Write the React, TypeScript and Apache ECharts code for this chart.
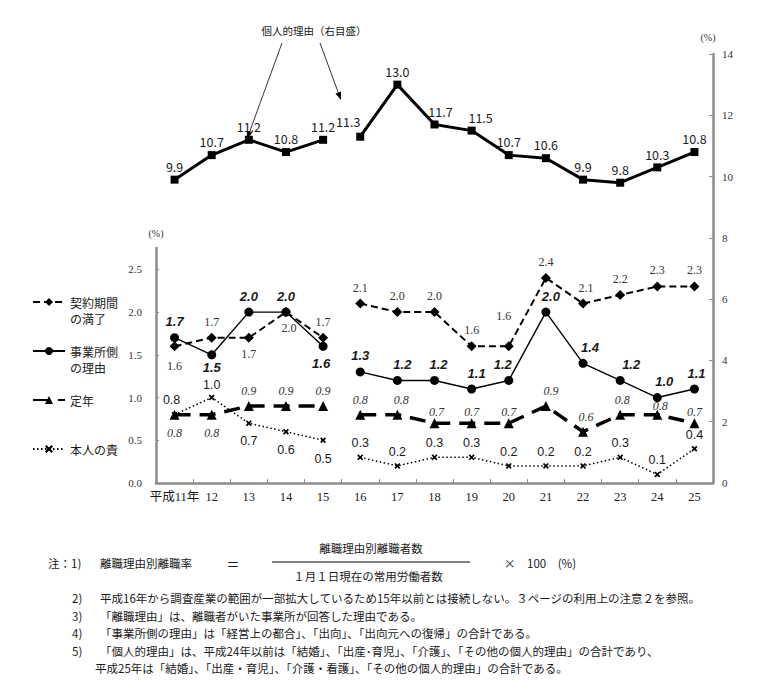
import React, { useEffect, useRef } from "react";
import * as echarts from "echarts";

// ---------- data ----------
const years = ["平成11年", "12", "13", "14", "15", "16", "17", "18", "19", "20", "21", "22", "23", "24", "25"];
const keiyaku = [1.6, 1.7, 1.7, 2.0, 1.7, 2.1, 2.0, 2.0, 1.6, 1.6, 2.4, 2.1, 2.2, 2.3, 2.3];
const jigyosho = [1.7, 1.5, 2.0, 2.0, 1.6, 1.3, 1.2, 1.2, 1.1, 1.2, 2.0, 1.4, 1.2, 1.0, 1.1];
const teinen = [0.8, 0.8, 0.9, 0.9, 0.9, 0.8, 0.8, 0.7, 0.7, 0.7, 0.9, 0.6, 0.8, 0.8, 0.7];
const honnin = [0.8, 1.0, 0.7, 0.6, 0.5, 0.3, 0.2, 0.3, 0.3, 0.2, 0.2, 0.2, 0.3, 0.1, 0.4];
const kojin = [9.9, 10.7, 11.2, 10.8, 11.2, 11.3, 13.0, 11.7, 11.5, 10.7, 10.6, 9.9, 9.8, 10.3, 10.8];
const leftTicks = [0, 0.5, 1.0, 1.5, 2.0, 2.5];
const breakAt = 5; // survey scope changed from 平成16年

const seriesNames = ["契約期間の満了", "事業所側の理由", "定年", "本人の責"];
// leading / trailing blank lines keep the first text line level with the legend icon
const legendText: Record<string, string> = {
  "契約期間の満了": "\n契約期間\nの満了",
  "事業所側の理由": "\n事業所側\nの理由",
  "定年": "\n定年\n",
  "本人の責": "\n本人の責\n",
};
const kojinName = "個人的理由";
const annotationText = "個人的理由（右目盛）";
const noteLines = [
  ["2)", "平成16年から調査産業の範囲が一部拡大しているため15年以前とは接続しない。３ページの利用上の注意２を参照。"],
  ["3)", "「離職理由」は、離職者がいた事業所が回答した理由である。"],
  ["4)", "「事業所側の理由」は「経営上の都合」、「出向」、「出向元への復帰」の合計である。"],
  ["5)", "「個人的理由」は、平成24年以前は「結婚」、「出産･育児」、「介護」、「その他の個人的理由」の合計であり、"],
  ["", "平成25年は「結婚」、「出産・育児」、「介護・看護」、「その他の個人的理由」の合計である。"],
];

// ---------- styles ----------
const SERIF = "'Liberation Serif','DejaVu Serif','Noto Sans CJK JP',serif";
const SANS = "'Liberation Sans','Noto Sans CJK JP',sans-serif";
const JP = "'Noto Sans CJK JP','Noto Sans CJK SC',sans-serif";
const AXIS = "#8c8c8c";
const INK = "#1a1a1a";

type Tweak = { position?: string; offset?: number[]; distance?: number };
const keiyakuTweaks: Record<number, Tweak> = {
  0: { position: "bottom", distance: 9 },
  2: { position: "bottom" },
  3: { position: "bottom", offset: [3, 0] },
  9: { offset: [-5, -14] },
  11: { offset: [3, 0] },
};
const jigyoshoTweaks: Record<number, Tweak> = {
  1: { position: "bottom", distance: 2 },
  4: { position: "bottom", offset: [-2, 1] },
  6: { offset: [5, 0] },
  7: { offset: [4, 0] },
  8: { offset: [5, 0] },
  9: { offset: [-6, 0] },
  10: { offset: [5, 0] },
  11: { offset: [7, 0] },
  12: { offset: [11, 0] },
  13: { offset: [7, 0] },
  14: { offset: [2, 0] },
};
const teinenTweaks: Record<number, Tweak> = {
  0: { position: "bottom", distance: 7 },
  1: { position: "bottom", distance: 7 },
  6: { offset: [4, 0] },
  7: { offset: [2, 4] },
  8: { offset: [0, 4] },
  9: { offset: [0, 4] },
  10: { offset: [5, 0] },
  11: { offset: [3, 0] },
  12: { offset: [2, 0] },
  13: { offset: [3, 6] },
  14: { offset: [0, 4] },
};
const honninTweaks: Record<number, Tweak> = {
  0: { offset: [-3, 0] },
  1: { offset: [0, 2] },
  2: { position: "bottom", distance: 9 },
  3: { position: "bottom", distance: 9 },
  4: { position: "bottom", distance: 9 },
};
const kojinTweaks: Record<number, Tweak> = {
  5: { offset: [-12, -2] },
  7: { offset: [6, 0] },
  8: { offset: [9, 0] },
};

// annotation arrows (pixel positions of the callout, not data marks)
const arrows = [
  [282, 43, 247, 139],
  [320, 43, 341, 100],
];

const XMARK = "path://M0,2L2,0L5,3L8,0L10,2L7,5L10,8L8,10L5,7L2,10L0,8L3,5Z";

function buildData(values: number[], tweaks: Record<number, Tweak>, from: number, to: number) {
  return values.map((v, i) => {
    if (i < from || i >= to) return "-";
    const t = tweaks[i];
    return t ? { value: v, label: { ...t } } : v;
  });
}

const fmt = (p: any) => Number(p.value).toFixed(1);

export default function App() {
  const ref = useRef<HTMLDivElement>(null);

  useEffect(() => {
    document.body.style.margin = "0";
    if (!ref.current) return;
    const chart = echarts.init(ref.current, null, { renderer: "svg" });

    const defs = [
      {
        name: seriesNames[0], values: keiyaku, tweaks: keiyakuTweaks,
        symbol: "diamond", symbolSize: 10,
        lineStyle: { type: [7, 4], width: 2 },
        label: { fontFamily: SERIF, fontSize: 12, color: "#333", distance: 5 },
      },
      {
        name: seriesNames[1], values: jigyosho, tweaks: jigyoshoTweaks,
        symbol: "circle", symbolSize: 9,
        lineStyle: { type: "solid", width: 1.4 },
        label: { fontFamily: SANS, fontSize: 13, fontWeight: "bold", fontStyle: "italic", color: INK, distance: 5 },
      },
      {
        name: seriesNames[2], values: teinen, tweaks: teinenTweaks,
        symbol: "triangle", symbolSize: 10,
        lineStyle: { type: [16, 9], width: 3.5 },
        label: { fontFamily: SERIF, fontSize: 12, fontStyle: "italic", color: "#333", distance: 4 },
      },
      {
        name: seriesNames[3], values: honnin, tweaks: honninTweaks,
        symbol: XMARK, symbolSize: 6,
        lineStyle: { type: [1.5, 2.5], width: 1.5 },
        label: { fontFamily: SANS, fontSize: 12.5, color: INK, distance: 5 },
      },
    ];

    const series: any[] = [];
    defs.forEach((d) => {
      [[0, breakAt], [breakAt, years.length]].forEach(([a, b]) => {
        series.push({
          type: "line",
          name: d.name,
          xAxisIndex: 0,
          yAxisIndex: 0,
          data: buildData(d.values, d.tweaks, a, b),
          symbol: d.symbol,
          symbolSize: d.symbolSize,
          showSymbol: true,
          connectNulls: false,
          itemStyle: { color: "#000" },
          lineStyle: { color: "#000", ...d.lineStyle },
          label: { show: true, position: "top", formatter: fmt, ...d.label },
          emphasis: { disabled: true },
          z: 3,
        });
      });
    });

    [[0, breakAt], [breakAt, years.length]].forEach(([a, b]) => {
      series.push({
        type: "line",
        name: kojinName,
        xAxisIndex: 1,
        yAxisIndex: 1,
        data: buildData(kojin, kojinTweaks, a, b),
        symbol: "rect",
        symbolSize: 8,
        itemStyle: { color: "#000" },
        lineStyle: { color: "#000", width: 3 },
        label: { show: true, position: "top", distance: 3, formatter: fmt, fontFamily: JP, fontSize: 12.5, color: INK },
        emphasis: { disabled: true },
      });
    });

    const text = (x: number, y: number, t: string, extra: any = {}) => ({
      type: "text", x, y, silent: true,
      style: { text: t, fontFamily: JP, fontSize: 11.5, fill: INK, verticalAlign: "middle", ...extra },
    });

    const graphic: any[] = [
      text(314, 30, annotationText, { align: "center", fontSize: 10.5 }),
      text(48, 563, "注：1)"),
      text(100, 563, "離職理由別離職率"),
      text(233, 563, "＝", { align: "center", fontSize: 13 }),
      text(371, 548, "離職理由別離職者数", { align: "center" }),
      { type: "line", silent: true, shape: { x1: 272, y1: 562, x2: 470, y2: 562 }, style: { stroke: "#000", lineWidth: 1.2 } },
      text(368, 576, "１月１日現在の常用労働者数", { align: "center" }),
      text(504, 563, "×　100　(%)"),
    ];
    noteLines.forEach(([n, t], i) => {
      const y = 598 + i * 17.5;
      if (n) graphic.push(text(72, y, n));
      graphic.push(text(n ? 100 : 95, y, t));
    });
    arrows.forEach(([x1, y1, x2, y2]) => {
      const dx = x2 - x1, dy = y2 - y1;
      const len = Math.hypot(dx, dy);
      const ux = dx / len, uy = dy / len;
      const bx = x2 - ux * 8, by = y2 - uy * 8;
      graphic.push({ type: "line", silent: true, shape: { x1, y1, x2: bx, y2: by }, style: { stroke: "#000", lineWidth: 0.8 } });
      graphic.push({
        type: "polygon", silent: true,
        shape: { points: [[x2, y2], [bx - uy * 3, by + ux * 3], [bx + uy * 3, by - ux * 3]] },
        style: { fill: "#000" },
      });
    });

    chart.setOption({
      animation: false,
      backgroundColor: "#fff",
      grid: [
        { left: 156, right: 47, top: 248, bottom: 207 },
        { left: 156, right: 47, top: 54, bottom: 207 },
      ],
      legend: {
        orient: "vertical",
        left: 27,
        top: 273,
        itemWidth: 32,
        itemHeight: 10,
        itemGap: 1,
        selectedMode: false,
        data: seriesNames,
        formatter: (n: string) => legendText[n] ?? n,
        textStyle: { fontFamily: JP, fontSize: 12, color: INK, lineHeight: 16 },
      },
      xAxis: [
        {
          type: "category", gridIndex: 0, data: years, boundaryGap: true,
          axisLine: { lineStyle: { color: AXIS, width: 2.5 } },
          axisTick: { show: true, inside: true, length: 4, lineStyle: { color: AXIS, width: 1 } },
          axisLabel: { fontFamily: SERIF, fontSize: 12.5, color: INK, margin: 8, interval: 0 },
          splitLine: { show: false },
        },
        { type: "category", gridIndex: 1, data: years, boundaryGap: true, show: false },
      ],
      yAxis: [
        {
          type: "value", gridIndex: 0, min: 0, max: 2.75, interval: 0.5, position: "left",
          name: "(%)", nameLocation: "end", nameGap: 10,
          nameTextStyle: { fontFamily: SERIF, fontSize: 10, color: "#333", align: "center" },
          axisLine: { show: true, lineStyle: { color: AXIS, width: 2.5 } },
          axisTick: { show: true, inside: true, length: 3, lineStyle: { color: AXIS }, customValues: leftTicks },
          axisLabel: { fontFamily: SERIF, fontSize: 11, color: "#333", margin: 14, customValues: leftTicks, formatter: (v: number) => v.toFixed(1) },
          splitLine: { show: false },
        },
        {
          type: "value", gridIndex: 1, min: 0, max: 14, interval: 2, position: "right",
          name: "(%)", nameLocation: "end", nameGap: 12,
          nameTextStyle: { fontFamily: SERIF, fontSize: 10, color: "#333", align: "center", padding: [0, 10, 0, 0] },
          axisLine: { show: true, lineStyle: { color: AXIS, width: 2.5 } },
          axisTick: { show: true, inside: true, length: 4, lineStyle: { color: AXIS } },
          axisLabel: { fontFamily: SERIF, fontSize: 11, color: "#333", margin: 9 },
          splitLine: { show: false },
        },
      ],
      series,
      graphic,
    });

    return () => chart.dispose();
  }, []);

  return <div ref={ref} style={{ width: 760, height: 690 }} />;
}
